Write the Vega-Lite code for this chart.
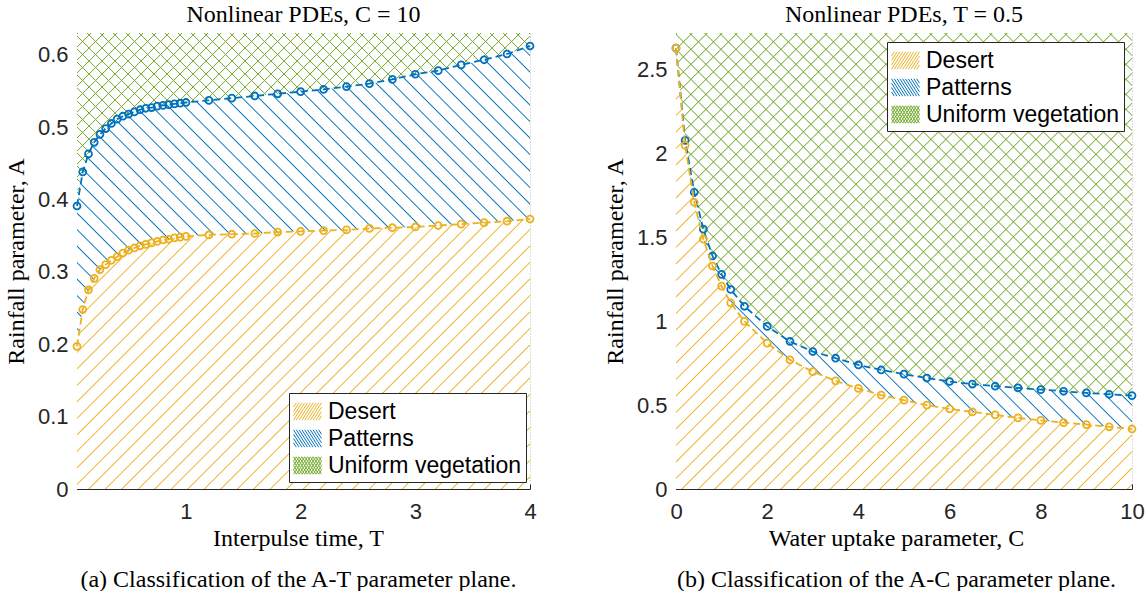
{
"$schema":"https://vega.github.io/schema/vega-lite/v6.json",
"background":"white",
"autosize":{"type":"pad"},
"padding":{"left":4,"top":3,"right":0,"bottom":0},
"spacing":146,
"bounds":"flush",
"datasets":{
"L":[{"T":0.05,"O":0.197,"B":0.391},{"T":0.1,"O":0.248,"B":0.438},{"T":0.15,"O":0.275,"B":0.463},{"T":0.2,"O":0.291,"B":0.479},{"T":0.25,"O":0.303,"B":0.49},{"T":0.3,"O":0.31,"B":0.498},{"T":0.35,"O":0.316,"B":0.505},{"T":0.4,"O":0.321,"B":0.511},{"T":0.45,"O":0.326,"B":0.515},{"T":0.5,"O":0.33,"B":0.518},{"T":0.55,"O":0.333,"B":0.521},{"T":0.6,"O":0.336,"B":0.524},{"T":0.65,"O":0.338,"B":0.526},{"T":0.7,"O":0.34,"B":0.527},{"T":0.75,"O":0.342,"B":0.529},{"T":0.8,"O":0.344,"B":0.53},{"T":0.85,"O":0.345,"B":0.531},{"T":0.9,"O":0.347,"B":0.532},{"T":0.95,"O":0.348,"B":0.533},{"T":1.0,"O":0.349,"B":0.534},{"T":1.2,"O":0.351,"B":0.537},{"T":1.4,"O":0.352,"B":0.54},{"T":1.6,"O":0.353,"B":0.543},{"T":1.8,"O":0.355,"B":0.546},{"T":2.0,"O":0.356,"B":0.549},{"T":2.2,"O":0.357,"B":0.552},{"T":2.4,"O":0.358,"B":0.556},{"T":2.6,"O":0.36,"B":0.56},{"T":2.8,"O":0.361,"B":0.566},{"T":3.0,"O":0.362,"B":0.573},{"T":3.2,"O":0.364,"B":0.578},{"T":3.4,"O":0.366,"B":0.586},{"T":3.6,"O":0.368,"B":0.593},{"T":3.8,"O":0.37,"B":0.601},{"T":4.0,"O":0.373,"B":0.612}],
"R":[{"C":0,"O":2.63,"B":2.63},{"C":0.2,"O":2.05,"B":2.08},{"C":0.4,"O":1.71,"B":1.77},{"C":0.6,"O":1.49,"B":1.55},{"C":0.8,"O":1.33,"B":1.39},{"C":1.0,"O":1.21,"B":1.28},{"C":1.2,"O":1.11,"B":1.19},{"C":1.5,"O":1.0,"B":1.09},{"C":2.0,"O":0.87,"B":0.97},{"C":2.5,"O":0.77,"B":0.88},{"C":3.0,"O":0.7,"B":0.82},{"C":3.5,"O":0.645,"B":0.78},{"C":4.0,"O":0.6,"B":0.74},{"C":4.5,"O":0.56,"B":0.71},{"C":5.0,"O":0.53,"B":0.685},{"C":5.5,"O":0.5,"B":0.662},{"C":6.0,"O":0.478,"B":0.641},{"C":6.5,"O":0.46,"B":0.626},{"C":7.0,"O":0.442,"B":0.613},{"C":7.5,"O":0.424,"B":0.603},{"C":8.0,"O":0.409,"B":0.593},{"C":8.5,"O":0.396,"B":0.583},{"C":9.0,"O":0.384,"B":0.573},{"C":9.5,"O":0.371,"B":0.565},{"C":10.0,"O":0.358,"B":0.557}],
"G":[{"region":"Desert"},{"region":"Patterns"},{"region":"Uniform vegetation"}]
},
"resolve":{"scale":{"stroke":"independent","shape":"independent"},"legend":{"stroke":"independent","shape":"independent"}},
"hconcat":[
{
"width":453,"height":456,
"title":{"text":"Nonlinear PDEs, C = 10"},
"data":{"name":"L"},
"encoding":{
"x":{"field":"T","type":"quantitative","scale":{"domain":[0.05,4],"nice":false,"zero":false},"axis":{"values":[1,2,3,4],"format":"~r","title":["Interpulse time, T","(a) Classification of the A-T parameter plane."],"titleX":221}},
"y":{"field":"O","type":"quantitative","scale":{"domain":[0,0.63],"nice":false,"zero":false},"axis":{"values":[0,0.1,0.2,0.3,0.4,0.5,0.6],"format":"~r","title":"Rainfall parameter, A"}}
},
"layer":[
{"mark":{"type":"area","fill":{"gradient":"linear","x1":0,"y1":0,"x2":2.6876,"y2":1.6019,"stops":[
{"offset":0.04,"color":"#fff"},{"offset":0.0408,"color":"#edb120"},{"offset":0.0416,"color":"#fff"},
{"offset":0.05,"color":"#fff"},{"offset":0.0508,"color":"#edb120"},{"offset":0.0516,"color":"#fff"},
{"offset":0.06,"color":"#fff"},{"offset":0.0608,"color":"#edb120"},{"offset":0.0616,"color":"#fff"},
{"offset":0.07,"color":"#fff"},{"offset":0.0708,"color":"#edb120"},{"offset":0.0716,"color":"#fff"},
{"offset":0.08,"color":"#fff"},{"offset":0.0808,"color":"#edb120"},{"offset":0.0816,"color":"#fff"},
{"offset":0.09,"color":"#fff"},{"offset":0.0908,"color":"#edb120"},{"offset":0.0916,"color":"#fff"},
{"offset":0.10,"color":"#fff"},{"offset":0.1008,"color":"#edb120"},{"offset":0.1016,"color":"#fff"},
{"offset":0.11,"color":"#fff"},{"offset":0.1108,"color":"#edb120"},{"offset":0.1116,"color":"#fff"},
{"offset":0.12,"color":"#fff"},{"offset":0.1208,"color":"#edb120"},{"offset":0.1216,"color":"#fff"},
{"offset":0.13,"color":"#fff"},{"offset":0.1308,"color":"#edb120"},{"offset":0.1316,"color":"#fff"},
{"offset":0.14,"color":"#fff"},{"offset":0.1408,"color":"#edb120"},{"offset":0.1416,"color":"#fff"},
{"offset":0.15,"color":"#fff"},{"offset":0.1508,"color":"#edb120"},{"offset":0.1516,"color":"#fff"},
{"offset":0.16,"color":"#fff"},{"offset":0.1608,"color":"#edb120"},{"offset":0.1616,"color":"#fff"},
{"offset":0.17,"color":"#fff"},{"offset":0.1708,"color":"#edb120"},{"offset":0.1716,"color":"#fff"},
{"offset":0.18,"color":"#fff"},{"offset":0.1808,"color":"#edb120"},{"offset":0.1816,"color":"#fff"},
{"offset":0.19,"color":"#fff"},{"offset":0.1908,"color":"#edb120"},{"offset":0.1916,"color":"#fff"},
{"offset":0.20,"color":"#fff"},{"offset":0.2008,"color":"#edb120"},{"offset":0.2016,"color":"#fff"},
{"offset":0.21,"color":"#fff"},{"offset":0.2108,"color":"#edb120"},{"offset":0.2116,"color":"#fff"},
{"offset":0.22,"color":"#fff"},{"offset":0.2208,"color":"#edb120"},{"offset":0.2216,"color":"#fff"},
{"offset":0.23,"color":"#fff"},{"offset":0.2308,"color":"#edb120"},{"offset":0.2316,"color":"#fff"},
{"offset":0.24,"color":"#fff"},{"offset":0.2408,"color":"#edb120"},{"offset":0.2416,"color":"#fff"},
{"offset":0.25,"color":"#fff"},{"offset":0.2508,"color":"#edb120"},{"offset":0.2516,"color":"#fff"},
{"offset":0.26,"color":"#fff"},{"offset":0.2608,"color":"#edb120"},{"offset":0.2616,"color":"#fff"},
{"offset":0.27,"color":"#fff"},{"offset":0.2708,"color":"#edb120"},{"offset":0.2716,"color":"#fff"},
{"offset":0.28,"color":"#fff"},{"offset":0.2808,"color":"#edb120"},{"offset":0.2816,"color":"#fff"},
{"offset":0.29,"color":"#fff"},{"offset":0.2908,"color":"#edb120"},{"offset":0.2916,"color":"#fff"},
{"offset":0.30,"color":"#fff"},{"offset":0.3008,"color":"#edb120"},{"offset":0.3016,"color":"#fff"},
{"offset":0.31,"color":"#fff"},{"offset":0.3108,"color":"#edb120"},{"offset":0.3116,"color":"#fff"},
{"offset":0.32,"color":"#fff"},{"offset":0.3208,"color":"#edb120"},{"offset":0.3216,"color":"#fff"},
{"offset":0.33,"color":"#fff"},{"offset":0.3308,"color":"#edb120"},{"offset":0.3316,"color":"#fff"},
{"offset":0.34,"color":"#fff"},{"offset":0.3408,"color":"#edb120"},{"offset":0.3416,"color":"#fff"},
{"offset":0.35,"color":"#fff"},{"offset":0.3508,"color":"#edb120"},{"offset":0.3516,"color":"#fff"},
{"offset":0.36,"color":"#fff"},{"offset":0.3608,"color":"#edb120"},{"offset":0.3616,"color":"#fff"},
{"offset":0.37,"color":"#fff"},{"offset":0.3708,"color":"#edb120"},{"offset":0.3716,"color":"#fff"},
{"offset":0.38,"color":"#fff"},{"offset":0.3808,"color":"#edb120"},{"offset":0.3816,"color":"#fff"},
{"offset":0.39,"color":"#fff"},{"offset":0.3908,"color":"#edb120"},{"offset":0.3916,"color":"#fff"},
{"offset":0.40,"color":"#fff"},{"offset":0.4008,"color":"#edb120"},{"offset":0.4016,"color":"#fff"},
{"offset":0.41,"color":"#fff"},{"offset":0.4108,"color":"#edb120"},{"offset":0.4116,"color":"#fff"},
{"offset":0.42,"color":"#fff"},{"offset":0.4208,"color":"#edb120"},{"offset":0.4216,"color":"#fff"},
{"offset":0.43,"color":"#fff"},{"offset":0.4308,"color":"#edb120"},{"offset":0.4316,"color":"#fff"}
]}},"encoding":{"y2":{"datum":0}}},
{"mark":{"type":"area","fill":{"gradient":"linear","x1":0,"y1":1,"x2":2.5299,"y2":-0.6776,"stops":[
{"offset":0,"color":"#fff"},{"offset":0.0008,"color":"#0072bd"},{"offset":0.0016,"color":"#fff"},
{"offset":0.01,"color":"#fff"},{"offset":0.0108,"color":"#0072bd"},{"offset":0.0116,"color":"#fff"},
{"offset":0.02,"color":"#fff"},{"offset":0.0208,"color":"#0072bd"},{"offset":0.0216,"color":"#fff"},
{"offset":0.03,"color":"#fff"},{"offset":0.0308,"color":"#0072bd"},{"offset":0.0316,"color":"#fff"},
{"offset":0.04,"color":"#fff"},{"offset":0.0408,"color":"#0072bd"},{"offset":0.0416,"color":"#fff"},
{"offset":0.05,"color":"#fff"},{"offset":0.0508,"color":"#0072bd"},{"offset":0.0516,"color":"#fff"},
{"offset":0.06,"color":"#fff"},{"offset":0.0608,"color":"#0072bd"},{"offset":0.0616,"color":"#fff"},
{"offset":0.07,"color":"#fff"},{"offset":0.0708,"color":"#0072bd"},{"offset":0.0716,"color":"#fff"},
{"offset":0.08,"color":"#fff"},{"offset":0.0808,"color":"#0072bd"},{"offset":0.0816,"color":"#fff"},
{"offset":0.09,"color":"#fff"},{"offset":0.0908,"color":"#0072bd"},{"offset":0.0916,"color":"#fff"},
{"offset":0.10,"color":"#fff"},{"offset":0.1008,"color":"#0072bd"},{"offset":0.1016,"color":"#fff"},
{"offset":0.11,"color":"#fff"},{"offset":0.1108,"color":"#0072bd"},{"offset":0.1116,"color":"#fff"},
{"offset":0.12,"color":"#fff"},{"offset":0.1208,"color":"#0072bd"},{"offset":0.1216,"color":"#fff"},
{"offset":0.13,"color":"#fff"},{"offset":0.1308,"color":"#0072bd"},{"offset":0.1316,"color":"#fff"},
{"offset":0.14,"color":"#fff"},{"offset":0.1408,"color":"#0072bd"},{"offset":0.1416,"color":"#fff"},
{"offset":0.15,"color":"#fff"},{"offset":0.1508,"color":"#0072bd"},{"offset":0.1516,"color":"#fff"},
{"offset":0.16,"color":"#fff"},{"offset":0.1608,"color":"#0072bd"},{"offset":0.1616,"color":"#fff"},
{"offset":0.17,"color":"#fff"},{"offset":0.1708,"color":"#0072bd"},{"offset":0.1716,"color":"#fff"},
{"offset":0.18,"color":"#fff"},{"offset":0.1808,"color":"#0072bd"},{"offset":0.1816,"color":"#fff"},
{"offset":0.19,"color":"#fff"},{"offset":0.1908,"color":"#0072bd"},{"offset":0.1916,"color":"#fff"},
{"offset":0.20,"color":"#fff"},{"offset":0.2008,"color":"#0072bd"},{"offset":0.2016,"color":"#fff"},
{"offset":0.21,"color":"#fff"},{"offset":0.2108,"color":"#0072bd"},{"offset":0.2116,"color":"#fff"},
{"offset":0.22,"color":"#fff"},{"offset":0.2208,"color":"#0072bd"},{"offset":0.2216,"color":"#fff"},
{"offset":0.23,"color":"#fff"},{"offset":0.2308,"color":"#0072bd"},{"offset":0.2316,"color":"#fff"},
{"offset":0.24,"color":"#fff"},{"offset":0.2408,"color":"#0072bd"},{"offset":0.2416,"color":"#fff"},
{"offset":0.25,"color":"#fff"},{"offset":0.2508,"color":"#0072bd"},{"offset":0.2516,"color":"#fff"},
{"offset":0.26,"color":"#fff"},{"offset":0.2608,"color":"#0072bd"},{"offset":0.2616,"color":"#fff"},
{"offset":0.27,"color":"#fff"},{"offset":0.2708,"color":"#0072bd"},{"offset":0.2716,"color":"#fff"},
{"offset":0.28,"color":"#fff"},{"offset":0.2808,"color":"#0072bd"},{"offset":0.2816,"color":"#fff"},
{"offset":0.29,"color":"#fff"},{"offset":0.2908,"color":"#0072bd"},{"offset":0.2916,"color":"#fff"},
{"offset":0.30,"color":"#fff"},{"offset":0.3008,"color":"#0072bd"},{"offset":0.3016,"color":"#fff"},
{"offset":0.31,"color":"#fff"},{"offset":0.3108,"color":"#0072bd"},{"offset":0.3116,"color":"#fff"},
{"offset":0.32,"color":"#fff"},{"offset":0.3208,"color":"#0072bd"},{"offset":0.3216,"color":"#fff"},
{"offset":0.33,"color":"#fff"},{"offset":0.3308,"color":"#0072bd"},{"offset":0.3316,"color":"#fff"},
{"offset":0.34,"color":"#fff"},{"offset":0.3408,"color":"#0072bd"},{"offset":0.3416,"color":"#fff"},
{"offset":0.35,"color":"#fff"},{"offset":0.3508,"color":"#0072bd"},{"offset":0.3516,"color":"#fff"},
{"offset":0.36,"color":"#fff"},{"offset":0.3608,"color":"#0072bd"},{"offset":0.3616,"color":"#fff"},
{"offset":0.37,"color":"#fff"},{"offset":0.3708,"color":"#0072bd"},{"offset":0.3716,"color":"#fff"},
{"offset":0.38,"color":"#fff"},{"offset":0.3808,"color":"#0072bd"},{"offset":0.3816,"color":"#fff"},
{"offset":0.39,"color":"#fff"},{"offset":0.3908,"color":"#0072bd"},{"offset":0.3916,"color":"#fff"},
{"offset":0.40,"color":"#fff"},{"offset":0.4008,"color":"#0072bd"},{"offset":0.4016,"color":"#fff"},
{"offset":0.41,"color":"#fff"},{"offset":0.4108,"color":"#0072bd"},{"offset":0.4116,"color":"#fff"},
{"offset":0.42,"color":"#fff"},{"offset":0.4208,"color":"#0072bd"},{"offset":0.4216,"color":"#fff"},
{"offset":0.43,"color":"#fff"},{"offset":0.4308,"color":"#0072bd"},{"offset":0.4316,"color":"#fff"},
{"offset":0.44,"color":"#fff"},{"offset":0.4408,"color":"#0072bd"},{"offset":0.4416,"color":"#fff"},
{"offset":0.45,"color":"#fff"},{"offset":0.4508,"color":"#0072bd"},{"offset":0.4516,"color":"#fff"}
]}},"encoding":{"y2":{"field":"B"}}},
{"mark":{"type":"area","fill":{"gradient":"linear","x1":0,"y1":0,"x2":2.5045,"y2":0.9565,"stops":[
{"offset":0,"color":"#fff"},{"offset":0.0008,"color":"#77ac30"},{"offset":0.0016,"color":"#fff"},
{"offset":0.01,"color":"#fff"},{"offset":0.0108,"color":"#77ac30"},{"offset":0.0116,"color":"#fff"},
{"offset":0.02,"color":"#fff"},{"offset":0.0208,"color":"#77ac30"},{"offset":0.0216,"color":"#fff"},
{"offset":0.03,"color":"#fff"},{"offset":0.0308,"color":"#77ac30"},{"offset":0.0316,"color":"#fff"},
{"offset":0.04,"color":"#fff"},{"offset":0.0408,"color":"#77ac30"},{"offset":0.0416,"color":"#fff"},
{"offset":0.05,"color":"#fff"},{"offset":0.0508,"color":"#77ac30"},{"offset":0.0516,"color":"#fff"},
{"offset":0.06,"color":"#fff"},{"offset":0.0608,"color":"#77ac30"},{"offset":0.0616,"color":"#fff"},
{"offset":0.07,"color":"#fff"},{"offset":0.0708,"color":"#77ac30"},{"offset":0.0716,"color":"#fff"},
{"offset":0.08,"color":"#fff"},{"offset":0.0808,"color":"#77ac30"},{"offset":0.0816,"color":"#fff"},
{"offset":0.09,"color":"#fff"},{"offset":0.0908,"color":"#77ac30"},{"offset":0.0916,"color":"#fff"},
{"offset":0.10,"color":"#fff"},{"offset":0.1008,"color":"#77ac30"},{"offset":0.1016,"color":"#fff"},
{"offset":0.11,"color":"#fff"},{"offset":0.1108,"color":"#77ac30"},{"offset":0.1116,"color":"#fff"},
{"offset":0.12,"color":"#fff"},{"offset":0.1208,"color":"#77ac30"},{"offset":0.1216,"color":"#fff"},
{"offset":0.13,"color":"#fff"},{"offset":0.1308,"color":"#77ac30"},{"offset":0.1316,"color":"#fff"},
{"offset":0.14,"color":"#fff"},{"offset":0.1408,"color":"#77ac30"},{"offset":0.1416,"color":"#fff"},
{"offset":0.15,"color":"#fff"},{"offset":0.1508,"color":"#77ac30"},{"offset":0.1516,"color":"#fff"},
{"offset":0.16,"color":"#fff"},{"offset":0.1608,"color":"#77ac30"},{"offset":0.1616,"color":"#fff"},
{"offset":0.17,"color":"#fff"},{"offset":0.1708,"color":"#77ac30"},{"offset":0.1716,"color":"#fff"},
{"offset":0.18,"color":"#fff"},{"offset":0.1808,"color":"#77ac30"},{"offset":0.1816,"color":"#fff"},
{"offset":0.19,"color":"#fff"},{"offset":0.1908,"color":"#77ac30"},{"offset":0.1916,"color":"#fff"},
{"offset":0.20,"color":"#fff"},{"offset":0.2008,"color":"#77ac30"},{"offset":0.2016,"color":"#fff"},
{"offset":0.21,"color":"#fff"},{"offset":0.2108,"color":"#77ac30"},{"offset":0.2116,"color":"#fff"},
{"offset":0.22,"color":"#fff"},{"offset":0.2208,"color":"#77ac30"},{"offset":0.2216,"color":"#fff"},
{"offset":0.23,"color":"#fff"},{"offset":0.2308,"color":"#77ac30"},{"offset":0.2316,"color":"#fff"},
{"offset":0.24,"color":"#fff"},{"offset":0.2408,"color":"#77ac30"},{"offset":0.2416,"color":"#fff"},
{"offset":0.25,"color":"#fff"},{"offset":0.2508,"color":"#77ac30"},{"offset":0.2516,"color":"#fff"},
{"offset":0.26,"color":"#fff"},{"offset":0.2608,"color":"#77ac30"},{"offset":0.2616,"color":"#fff"},
{"offset":0.27,"color":"#fff"},{"offset":0.2708,"color":"#77ac30"},{"offset":0.2716,"color":"#fff"},
{"offset":0.28,"color":"#fff"},{"offset":0.2808,"color":"#77ac30"},{"offset":0.2816,"color":"#fff"},
{"offset":0.29,"color":"#fff"},{"offset":0.2908,"color":"#77ac30"},{"offset":0.2916,"color":"#fff"},
{"offset":0.30,"color":"#fff"},{"offset":0.3008,"color":"#77ac30"},{"offset":0.3016,"color":"#fff"},
{"offset":0.31,"color":"#fff"},{"offset":0.3108,"color":"#77ac30"},{"offset":0.3116,"color":"#fff"},
{"offset":0.32,"color":"#fff"},{"offset":0.3208,"color":"#77ac30"},{"offset":0.3216,"color":"#fff"},
{"offset":0.33,"color":"#fff"},{"offset":0.3308,"color":"#77ac30"},{"offset":0.3316,"color":"#fff"},
{"offset":0.34,"color":"#fff"},{"offset":0.3408,"color":"#77ac30"},{"offset":0.3416,"color":"#fff"},
{"offset":0.35,"color":"#fff"},{"offset":0.3508,"color":"#77ac30"},{"offset":0.3516,"color":"#fff"}
]}},"encoding":{"y":{"field":"B","type":"quantitative"},"y2":{"datum":0.63}}},
{"mark":{"type":"area","fill":{"gradient":"linear","x1":0,"y1":1,"x2":2.5045,"y2":0.0435,"stops":[
{"offset":0,"color":"#77ac3000"},{"offset":0.0008,"color":"#77ac30"},{"offset":0.0016,"color":"#77ac3000"},
{"offset":0.01,"color":"#77ac3000"},{"offset":0.0108,"color":"#77ac30"},{"offset":0.0116,"color":"#77ac3000"},
{"offset":0.02,"color":"#77ac3000"},{"offset":0.0208,"color":"#77ac30"},{"offset":0.0216,"color":"#77ac3000"},
{"offset":0.03,"color":"#77ac3000"},{"offset":0.0308,"color":"#77ac30"},{"offset":0.0316,"color":"#77ac3000"},
{"offset":0.04,"color":"#77ac3000"},{"offset":0.0408,"color":"#77ac30"},{"offset":0.0416,"color":"#77ac3000"},
{"offset":0.05,"color":"#77ac3000"},{"offset":0.0508,"color":"#77ac30"},{"offset":0.0516,"color":"#77ac3000"},
{"offset":0.06,"color":"#77ac3000"},{"offset":0.0608,"color":"#77ac30"},{"offset":0.0616,"color":"#77ac3000"},
{"offset":0.07,"color":"#77ac3000"},{"offset":0.0708,"color":"#77ac30"},{"offset":0.0716,"color":"#77ac3000"},
{"offset":0.08,"color":"#77ac3000"},{"offset":0.0808,"color":"#77ac30"},{"offset":0.0816,"color":"#77ac3000"},
{"offset":0.09,"color":"#77ac3000"},{"offset":0.0908,"color":"#77ac30"},{"offset":0.0916,"color":"#77ac3000"},
{"offset":0.10,"color":"#77ac3000"},{"offset":0.1008,"color":"#77ac30"},{"offset":0.1016,"color":"#77ac3000"},
{"offset":0.11,"color":"#77ac3000"},{"offset":0.1108,"color":"#77ac30"},{"offset":0.1116,"color":"#77ac3000"},
{"offset":0.12,"color":"#77ac3000"},{"offset":0.1208,"color":"#77ac30"},{"offset":0.1216,"color":"#77ac3000"},
{"offset":0.13,"color":"#77ac3000"},{"offset":0.1308,"color":"#77ac30"},{"offset":0.1316,"color":"#77ac3000"},
{"offset":0.14,"color":"#77ac3000"},{"offset":0.1408,"color":"#77ac30"},{"offset":0.1416,"color":"#77ac3000"},
{"offset":0.15,"color":"#77ac3000"},{"offset":0.1508,"color":"#77ac30"},{"offset":0.1516,"color":"#77ac3000"},
{"offset":0.16,"color":"#77ac3000"},{"offset":0.1608,"color":"#77ac30"},{"offset":0.1616,"color":"#77ac3000"},
{"offset":0.17,"color":"#77ac3000"},{"offset":0.1708,"color":"#77ac30"},{"offset":0.1716,"color":"#77ac3000"},
{"offset":0.18,"color":"#77ac3000"},{"offset":0.1808,"color":"#77ac30"},{"offset":0.1816,"color":"#77ac3000"},
{"offset":0.19,"color":"#77ac3000"},{"offset":0.1908,"color":"#77ac30"},{"offset":0.1916,"color":"#77ac3000"},
{"offset":0.20,"color":"#77ac3000"},{"offset":0.2008,"color":"#77ac30"},{"offset":0.2016,"color":"#77ac3000"},
{"offset":0.21,"color":"#77ac3000"},{"offset":0.2108,"color":"#77ac30"},{"offset":0.2116,"color":"#77ac3000"},
{"offset":0.22,"color":"#77ac3000"},{"offset":0.2208,"color":"#77ac30"},{"offset":0.2216,"color":"#77ac3000"},
{"offset":0.23,"color":"#77ac3000"},{"offset":0.2308,"color":"#77ac30"},{"offset":0.2316,"color":"#77ac3000"},
{"offset":0.24,"color":"#77ac3000"},{"offset":0.2408,"color":"#77ac30"},{"offset":0.2416,"color":"#77ac3000"},
{"offset":0.25,"color":"#77ac3000"},{"offset":0.2508,"color":"#77ac30"},{"offset":0.2516,"color":"#77ac3000"},
{"offset":0.26,"color":"#77ac3000"},{"offset":0.2608,"color":"#77ac30"},{"offset":0.2616,"color":"#77ac3000"},
{"offset":0.27,"color":"#77ac3000"},{"offset":0.2708,"color":"#77ac30"},{"offset":0.2716,"color":"#77ac3000"},
{"offset":0.28,"color":"#77ac3000"},{"offset":0.2808,"color":"#77ac30"},{"offset":0.2816,"color":"#77ac3000"},
{"offset":0.29,"color":"#77ac3000"},{"offset":0.2908,"color":"#77ac30"},{"offset":0.2916,"color":"#77ac3000"},
{"offset":0.30,"color":"#77ac3000"},{"offset":0.3008,"color":"#77ac30"},{"offset":0.3016,"color":"#77ac3000"},
{"offset":0.31,"color":"#77ac3000"},{"offset":0.3108,"color":"#77ac30"},{"offset":0.3116,"color":"#77ac3000"},
{"offset":0.32,"color":"#77ac3000"},{"offset":0.3208,"color":"#77ac30"},{"offset":0.3216,"color":"#77ac3000"},
{"offset":0.33,"color":"#77ac3000"},{"offset":0.3308,"color":"#77ac30"},{"offset":0.3316,"color":"#77ac3000"},
{"offset":0.34,"color":"#77ac3000"},{"offset":0.3408,"color":"#77ac30"},{"offset":0.3416,"color":"#77ac3000"},
{"offset":0.35,"color":"#77ac3000"},{"offset":0.3508,"color":"#77ac30"},{"offset":0.3516,"color":"#77ac3000"},
{"offset":0.36,"color":"#77ac3000"},{"offset":0.3608,"color":"#77ac30"},{"offset":0.3616,"color":"#77ac3000"},
{"offset":0.37,"color":"#77ac3000"},{"offset":0.3708,"color":"#77ac30"},{"offset":0.3716,"color":"#77ac3000"},
{"offset":0.38,"color":"#77ac3000"},{"offset":0.3808,"color":"#77ac30"},{"offset":0.3816,"color":"#77ac3000"},
{"offset":0.39,"color":"#77ac3000"},{"offset":0.3908,"color":"#77ac30"},{"offset":0.3916,"color":"#77ac3000"},
{"offset":0.40,"color":"#77ac3000"},{"offset":0.4008,"color":"#77ac30"},{"offset":0.4016,"color":"#77ac3000"},
{"offset":0.41,"color":"#77ac3000"},{"offset":0.4108,"color":"#77ac30"},{"offset":0.4116,"color":"#77ac3000"},
{"offset":0.42,"color":"#77ac3000"},{"offset":0.4208,"color":"#77ac30"},{"offset":0.4216,"color":"#77ac3000"},
{"offset":0.43,"color":"#77ac3000"},{"offset":0.4308,"color":"#77ac30"},{"offset":0.4316,"color":"#77ac3000"},
{"offset":0.44,"color":"#77ac3000"},{"offset":0.4408,"color":"#77ac30"},{"offset":0.4416,"color":"#77ac3000"},
{"offset":0.45,"color":"#77ac3000"},{"offset":0.4508,"color":"#77ac30"},{"offset":0.4516,"color":"#77ac3000"},
{"offset":0.46,"color":"#77ac3000"},{"offset":0.4608,"color":"#77ac30"},{"offset":0.4616,"color":"#77ac3000"},
{"offset":0.47,"color":"#77ac3000"},{"offset":0.4708,"color":"#77ac30"},{"offset":0.4716,"color":"#77ac3000"},
{"offset":0.48,"color":"#77ac3000"},{"offset":0.4808,"color":"#77ac30"},{"offset":0.4816,"color":"#77ac3000"}
]}},"encoding":{"y":{"field":"B","type":"quantitative"},"y2":{"datum":0.63}}},
{"mark":{"type":"line","stroke":"#0072bd","strokeWidth":1.8,"strokeDash":[7,4]},"encoding":{"y":{"field":"B","type":"quantitative"}}},
{"mark":{"type":"point","shape":"circle","filled":false,"stroke":"#0072bd","strokeWidth":1.8,"size":48,"opacity":1},"encoding":{"y":{"field":"B","type":"quantitative"}}},
{"mark":{"type":"line","stroke":"#edb120","strokeWidth":1.8,"strokeDash":[7,4]},"encoding":{}},
{"mark":{"type":"point","shape":"circle","filled":false,"stroke":"#edb120","strokeWidth":1.8,"size":48,"opacity":1},"encoding":{}},
{"data":{"name":"G"},"mark":{"type":"point","filled":false,"clip":true,"opacity":1,"strokeWidth":1},
"encoding":{"x":{"datum":-10},"y":{"datum":-10},
"stroke":{"field":"region","type":"nominal","scale":{"domain":["Desert","Patterns","Uniform vegetation"],"range":["#edb120","#0072bd","#77ac30"]},"legend":{"orient":"none","legendX":212,"legendY":360,"title":null}},
"shape":{"field":"region","type":"nominal","scale":{"domain":["Desert","Patterns","Uniform vegetation"],"range":["M-1,-0.31L-0.8,-0.62M-1,0L-0.6,-0.62M-1,0.31L-0.4,-0.62M-1,0.62L-0.2,-0.62M-0.8,0.62L0,-0.62M-0.6,0.62L0.2,-0.62M-0.4,0.62L0.4,-0.62M-0.2,0.62L0.6,-0.62M0,0.62L0.8,-0.62M0.2,0.62L1,-0.62M0.4,0.62L1,-0.31M0.6,0.62L1,0M0.8,0.62L1,0.31","M-1,0.31L-0.8,0.62M-1,0L-0.6,0.62M-1,-0.31L-0.4,0.62M-1,-0.62L-0.2,0.62M-0.8,-0.62L0,0.62M-0.6,-0.62L0.2,0.62M-0.4,-0.62L0.4,0.62M-0.2,-0.62L0.6,0.62M0,-0.62L0.8,0.62M0.2,-0.62L1,0.62M0.4,-0.62L1,0.31M0.6,-0.62L1,0M0.8,-0.62L1,-0.31","M-1,-0.31L-0.8,-0.62M-1,0L-0.6,-0.62M-1,0.31L-0.4,-0.62M-1,0.62L-0.2,-0.62M-0.8,0.62L0,-0.62M-0.6,0.62L0.2,-0.62M-0.4,0.62L0.4,-0.62M-0.2,0.62L0.6,-0.62M0,0.62L0.8,-0.62M0.2,0.62L1,-0.62M0.4,0.62L1,-0.31M0.6,0.62L1,0M0.8,0.62L1,0.31M-1,0.31L-0.8,0.62M-1,0L-0.6,0.62M-1,-0.31L-0.4,0.62M-1,-0.62L-0.2,0.62M-0.8,-0.62L0,0.62M-0.6,-0.62L0.2,0.62M-0.4,-0.62L0.4,0.62M-0.2,-0.62L0.6,0.62M0,-0.62L0.8,0.62M0.2,-0.62L1,0.62M0.4,-0.62L1,0.31M0.6,-0.62L1,0M0.8,-0.62L1,-0.31"]},"legend":{"orient":"none","legendX":212,"legendY":360,"title":null}}}}
]
},
{
"width":456,"height":456,
"title":{"text":"Nonlinear PDEs, T = 0.5"},
"data":{"name":"R"},
"encoding":{
"x":{"field":"C","type":"quantitative","scale":{"domain":[0,10],"nice":false,"zero":false},"axis":{"values":[0,2,4,6,8,10],"format":"~r","title":["Water uptake parameter, C","(b) Classification of the A-C parameter plane."],"titleX":220}},
"y":{"field":"O","type":"quantitative","scale":{"domain":[0,2.72],"nice":false,"zero":false},"axis":{"values":[0,0.5,1,1.5,2,2.5],"format":"~r","title":"Rainfall parameter, A"}}
},
"layer":[
{"mark":{"type":"area","fill":{"gradient":"linear","x1":0,"y1":0,"x2":1.8701,"y2":1.8082,"stops":[
{"offset":0.03,"color":"#fff"},{"offset":0.0308,"color":"#edb120"},{"offset":0.0316,"color":"#fff"},
{"offset":0.04,"color":"#fff"},{"offset":0.0408,"color":"#edb120"},{"offset":0.0416,"color":"#fff"},
{"offset":0.05,"color":"#fff"},{"offset":0.0508,"color":"#edb120"},{"offset":0.0516,"color":"#fff"},
{"offset":0.06,"color":"#fff"},{"offset":0.0608,"color":"#edb120"},{"offset":0.0616,"color":"#fff"},
{"offset":0.07,"color":"#fff"},{"offset":0.0708,"color":"#edb120"},{"offset":0.0716,"color":"#fff"},
{"offset":0.08,"color":"#fff"},{"offset":0.0808,"color":"#edb120"},{"offset":0.0816,"color":"#fff"},
{"offset":0.09,"color":"#fff"},{"offset":0.0908,"color":"#edb120"},{"offset":0.0916,"color":"#fff"},
{"offset":0.10,"color":"#fff"},{"offset":0.1008,"color":"#edb120"},{"offset":0.1016,"color":"#fff"},
{"offset":0.11,"color":"#fff"},{"offset":0.1108,"color":"#edb120"},{"offset":0.1116,"color":"#fff"},
{"offset":0.12,"color":"#fff"},{"offset":0.1208,"color":"#edb120"},{"offset":0.1216,"color":"#fff"},
{"offset":0.13,"color":"#fff"},{"offset":0.1308,"color":"#edb120"},{"offset":0.1316,"color":"#fff"},
{"offset":0.14,"color":"#fff"},{"offset":0.1408,"color":"#edb120"},{"offset":0.1416,"color":"#fff"},
{"offset":0.15,"color":"#fff"},{"offset":0.1508,"color":"#edb120"},{"offset":0.1516,"color":"#fff"},
{"offset":0.16,"color":"#fff"},{"offset":0.1608,"color":"#edb120"},{"offset":0.1616,"color":"#fff"},
{"offset":0.17,"color":"#fff"},{"offset":0.1708,"color":"#edb120"},{"offset":0.1716,"color":"#fff"},
{"offset":0.18,"color":"#fff"},{"offset":0.1808,"color":"#edb120"},{"offset":0.1816,"color":"#fff"},
{"offset":0.19,"color":"#fff"},{"offset":0.1908,"color":"#edb120"},{"offset":0.1916,"color":"#fff"},
{"offset":0.20,"color":"#fff"},{"offset":0.2008,"color":"#edb120"},{"offset":0.2016,"color":"#fff"},
{"offset":0.21,"color":"#fff"},{"offset":0.2108,"color":"#edb120"},{"offset":0.2116,"color":"#fff"},
{"offset":0.22,"color":"#fff"},{"offset":0.2208,"color":"#edb120"},{"offset":0.2216,"color":"#fff"},
{"offset":0.23,"color":"#fff"},{"offset":0.2308,"color":"#edb120"},{"offset":0.2316,"color":"#fff"},
{"offset":0.24,"color":"#fff"},{"offset":0.2408,"color":"#edb120"},{"offset":0.2416,"color":"#fff"},
{"offset":0.25,"color":"#fff"},{"offset":0.2508,"color":"#edb120"},{"offset":0.2516,"color":"#fff"},
{"offset":0.26,"color":"#fff"},{"offset":0.2608,"color":"#edb120"},{"offset":0.2616,"color":"#fff"},
{"offset":0.27,"color":"#fff"},{"offset":0.2708,"color":"#edb120"},{"offset":0.2716,"color":"#fff"},
{"offset":0.28,"color":"#fff"},{"offset":0.2808,"color":"#edb120"},{"offset":0.2816,"color":"#fff"},
{"offset":0.29,"color":"#fff"},{"offset":0.2908,"color":"#edb120"},{"offset":0.2916,"color":"#fff"},
{"offset":0.30,"color":"#fff"},{"offset":0.3008,"color":"#edb120"},{"offset":0.3016,"color":"#fff"},
{"offset":0.31,"color":"#fff"},{"offset":0.3108,"color":"#edb120"},{"offset":0.3116,"color":"#fff"},
{"offset":0.32,"color":"#fff"},{"offset":0.3208,"color":"#edb120"},{"offset":0.3216,"color":"#fff"},
{"offset":0.33,"color":"#fff"},{"offset":0.3308,"color":"#edb120"},{"offset":0.3316,"color":"#fff"},
{"offset":0.34,"color":"#fff"},{"offset":0.3408,"color":"#edb120"},{"offset":0.3416,"color":"#fff"},
{"offset":0.35,"color":"#fff"},{"offset":0.3508,"color":"#edb120"},{"offset":0.3516,"color":"#fff"},
{"offset":0.36,"color":"#fff"},{"offset":0.3608,"color":"#edb120"},{"offset":0.3616,"color":"#fff"},
{"offset":0.37,"color":"#fff"},{"offset":0.3708,"color":"#edb120"},{"offset":0.3716,"color":"#fff"},
{"offset":0.38,"color":"#fff"},{"offset":0.3808,"color":"#edb120"},{"offset":0.3816,"color":"#fff"},
{"offset":0.39,"color":"#fff"},{"offset":0.3908,"color":"#edb120"},{"offset":0.3916,"color":"#fff"},
{"offset":0.40,"color":"#fff"},{"offset":0.4008,"color":"#edb120"},{"offset":0.4016,"color":"#fff"},
{"offset":0.41,"color":"#fff"},{"offset":0.4108,"color":"#edb120"},{"offset":0.4116,"color":"#fff"},
{"offset":0.42,"color":"#fff"},{"offset":0.4208,"color":"#edb120"},{"offset":0.4216,"color":"#fff"},
{"offset":0.43,"color":"#fff"},{"offset":0.4308,"color":"#edb120"},{"offset":0.4316,"color":"#fff"},
{"offset":0.44,"color":"#fff"},{"offset":0.4408,"color":"#edb120"},{"offset":0.4416,"color":"#fff"},
{"offset":0.45,"color":"#fff"},{"offset":0.4508,"color":"#edb120"},{"offset":0.4516,"color":"#fff"},
{"offset":0.46,"color":"#fff"},{"offset":0.4608,"color":"#edb120"},{"offset":0.4616,"color":"#fff"},
{"offset":0.47,"color":"#fff"},{"offset":0.4708,"color":"#edb120"},{"offset":0.4716,"color":"#fff"},
{"offset":0.48,"color":"#fff"},{"offset":0.4808,"color":"#edb120"},{"offset":0.4816,"color":"#fff"},
{"offset":0.49,"color":"#fff"},{"offset":0.4908,"color":"#edb120"},{"offset":0.4916,"color":"#fff"},
{"offset":0.50,"color":"#fff"},{"offset":0.5008,"color":"#edb120"},{"offset":0.5016,"color":"#fff"},
{"offset":0.51,"color":"#fff"},{"offset":0.5108,"color":"#edb120"},{"offset":0.5116,"color":"#fff"},
{"offset":0.52,"color":"#fff"},{"offset":0.5208,"color":"#edb120"},{"offset":0.5216,"color":"#fff"},
{"offset":0.53,"color":"#fff"},{"offset":0.5308,"color":"#edb120"},{"offset":0.5316,"color":"#fff"},
{"offset":0.54,"color":"#fff"},{"offset":0.5408,"color":"#edb120"},{"offset":0.5416,"color":"#fff"}
]}},"encoding":{"y2":{"datum":0}}},
{"mark":{"type":"area","fill":{"gradient":"linear","x1":0,"y1":1,"x2":2.1304,"y2":-0.7805,"stops":[
{"offset":0.10,"color":"#fff"},{"offset":0.1008,"color":"#0072bd"},{"offset":0.1016,"color":"#fff"},
{"offset":0.11,"color":"#fff"},{"offset":0.1108,"color":"#0072bd"},{"offset":0.1116,"color":"#fff"},
{"offset":0.12,"color":"#fff"},{"offset":0.1208,"color":"#0072bd"},{"offset":0.1216,"color":"#fff"},
{"offset":0.13,"color":"#fff"},{"offset":0.1308,"color":"#0072bd"},{"offset":0.1316,"color":"#fff"},
{"offset":0.14,"color":"#fff"},{"offset":0.1408,"color":"#0072bd"},{"offset":0.1416,"color":"#fff"},
{"offset":0.15,"color":"#fff"},{"offset":0.1508,"color":"#0072bd"},{"offset":0.1516,"color":"#fff"},
{"offset":0.16,"color":"#fff"},{"offset":0.1608,"color":"#0072bd"},{"offset":0.1616,"color":"#fff"},
{"offset":0.17,"color":"#fff"},{"offset":0.1708,"color":"#0072bd"},{"offset":0.1716,"color":"#fff"},
{"offset":0.18,"color":"#fff"},{"offset":0.1808,"color":"#0072bd"},{"offset":0.1816,"color":"#fff"},
{"offset":0.19,"color":"#fff"},{"offset":0.1908,"color":"#0072bd"},{"offset":0.1916,"color":"#fff"},
{"offset":0.20,"color":"#fff"},{"offset":0.2008,"color":"#0072bd"},{"offset":0.2016,"color":"#fff"},
{"offset":0.21,"color":"#fff"},{"offset":0.2108,"color":"#0072bd"},{"offset":0.2116,"color":"#fff"},
{"offset":0.22,"color":"#fff"},{"offset":0.2208,"color":"#0072bd"},{"offset":0.2216,"color":"#fff"},
{"offset":0.23,"color":"#fff"},{"offset":0.2308,"color":"#0072bd"},{"offset":0.2316,"color":"#fff"},
{"offset":0.24,"color":"#fff"},{"offset":0.2408,"color":"#0072bd"},{"offset":0.2416,"color":"#fff"},
{"offset":0.25,"color":"#fff"},{"offset":0.2508,"color":"#0072bd"},{"offset":0.2516,"color":"#fff"},
{"offset":0.26,"color":"#fff"},{"offset":0.2608,"color":"#0072bd"},{"offset":0.2616,"color":"#fff"},
{"offset":0.27,"color":"#fff"},{"offset":0.2708,"color":"#0072bd"},{"offset":0.2716,"color":"#fff"},
{"offset":0.28,"color":"#fff"},{"offset":0.2808,"color":"#0072bd"},{"offset":0.2816,"color":"#fff"},
{"offset":0.29,"color":"#fff"},{"offset":0.2908,"color":"#0072bd"},{"offset":0.2916,"color":"#fff"}
]}},"encoding":{"y2":{"field":"B"}}},
{"mark":{"type":"area","fill":{"gradient":"linear","x1":0,"y1":0,"x2":2.0152,"y2":1.6025,"stops":[
{"offset":0,"color":"#fff"},{"offset":0.0008,"color":"#77ac30"},{"offset":0.0016,"color":"#fff"},
{"offset":0.01,"color":"#fff"},{"offset":0.0108,"color":"#77ac30"},{"offset":0.0116,"color":"#fff"},
{"offset":0.02,"color":"#fff"},{"offset":0.0208,"color":"#77ac30"},{"offset":0.0216,"color":"#fff"},
{"offset":0.03,"color":"#fff"},{"offset":0.0308,"color":"#77ac30"},{"offset":0.0316,"color":"#fff"},
{"offset":0.04,"color":"#fff"},{"offset":0.0408,"color":"#77ac30"},{"offset":0.0416,"color":"#fff"},
{"offset":0.05,"color":"#fff"},{"offset":0.0508,"color":"#77ac30"},{"offset":0.0516,"color":"#fff"},
{"offset":0.06,"color":"#fff"},{"offset":0.0608,"color":"#77ac30"},{"offset":0.0616,"color":"#fff"},
{"offset":0.07,"color":"#fff"},{"offset":0.0708,"color":"#77ac30"},{"offset":0.0716,"color":"#fff"},
{"offset":0.08,"color":"#fff"},{"offset":0.0808,"color":"#77ac30"},{"offset":0.0816,"color":"#fff"},
{"offset":0.09,"color":"#fff"},{"offset":0.0908,"color":"#77ac30"},{"offset":0.0916,"color":"#fff"},
{"offset":0.10,"color":"#fff"},{"offset":0.1008,"color":"#77ac30"},{"offset":0.1016,"color":"#fff"},
{"offset":0.11,"color":"#fff"},{"offset":0.1108,"color":"#77ac30"},{"offset":0.1116,"color":"#fff"},
{"offset":0.12,"color":"#fff"},{"offset":0.1208,"color":"#77ac30"},{"offset":0.1216,"color":"#fff"},
{"offset":0.13,"color":"#fff"},{"offset":0.1308,"color":"#77ac30"},{"offset":0.1316,"color":"#fff"},
{"offset":0.14,"color":"#fff"},{"offset":0.1408,"color":"#77ac30"},{"offset":0.1416,"color":"#fff"},
{"offset":0.15,"color":"#fff"},{"offset":0.1508,"color":"#77ac30"},{"offset":0.1516,"color":"#fff"},
{"offset":0.16,"color":"#fff"},{"offset":0.1608,"color":"#77ac30"},{"offset":0.1616,"color":"#fff"},
{"offset":0.17,"color":"#fff"},{"offset":0.1708,"color":"#77ac30"},{"offset":0.1716,"color":"#fff"},
{"offset":0.18,"color":"#fff"},{"offset":0.1808,"color":"#77ac30"},{"offset":0.1816,"color":"#fff"},
{"offset":0.19,"color":"#fff"},{"offset":0.1908,"color":"#77ac30"},{"offset":0.1916,"color":"#fff"},
{"offset":0.20,"color":"#fff"},{"offset":0.2008,"color":"#77ac30"},{"offset":0.2016,"color":"#fff"},
{"offset":0.21,"color":"#fff"},{"offset":0.2108,"color":"#77ac30"},{"offset":0.2116,"color":"#fff"},
{"offset":0.22,"color":"#fff"},{"offset":0.2208,"color":"#77ac30"},{"offset":0.2216,"color":"#fff"},
{"offset":0.23,"color":"#fff"},{"offset":0.2308,"color":"#77ac30"},{"offset":0.2316,"color":"#fff"},
{"offset":0.24,"color":"#fff"},{"offset":0.2408,"color":"#77ac30"},{"offset":0.2416,"color":"#fff"},
{"offset":0.25,"color":"#fff"},{"offset":0.2508,"color":"#77ac30"},{"offset":0.2516,"color":"#fff"},
{"offset":0.26,"color":"#fff"},{"offset":0.2608,"color":"#77ac30"},{"offset":0.2616,"color":"#fff"},
{"offset":0.27,"color":"#fff"},{"offset":0.2708,"color":"#77ac30"},{"offset":0.2716,"color":"#fff"},
{"offset":0.28,"color":"#fff"},{"offset":0.2808,"color":"#77ac30"},{"offset":0.2816,"color":"#fff"},
{"offset":0.29,"color":"#fff"},{"offset":0.2908,"color":"#77ac30"},{"offset":0.2916,"color":"#fff"},
{"offset":0.30,"color":"#fff"},{"offset":0.3008,"color":"#77ac30"},{"offset":0.3016,"color":"#fff"},
{"offset":0.31,"color":"#fff"},{"offset":0.3108,"color":"#77ac30"},{"offset":0.3116,"color":"#fff"},
{"offset":0.32,"color":"#fff"},{"offset":0.3208,"color":"#77ac30"},{"offset":0.3216,"color":"#fff"},
{"offset":0.33,"color":"#fff"},{"offset":0.3308,"color":"#77ac30"},{"offset":0.3316,"color":"#fff"},
{"offset":0.34,"color":"#fff"},{"offset":0.3408,"color":"#77ac30"},{"offset":0.3416,"color":"#fff"},
{"offset":0.35,"color":"#fff"},{"offset":0.3508,"color":"#77ac30"},{"offset":0.3516,"color":"#fff"},
{"offset":0.36,"color":"#fff"},{"offset":0.3608,"color":"#77ac30"},{"offset":0.3616,"color":"#fff"},
{"offset":0.37,"color":"#fff"},{"offset":0.3708,"color":"#77ac30"},{"offset":0.3716,"color":"#fff"},
{"offset":0.38,"color":"#fff"},{"offset":0.3808,"color":"#77ac30"},{"offset":0.3816,"color":"#fff"},
{"offset":0.39,"color":"#fff"},{"offset":0.3908,"color":"#77ac30"},{"offset":0.3916,"color":"#fff"},
{"offset":0.40,"color":"#fff"},{"offset":0.4008,"color":"#77ac30"},{"offset":0.4016,"color":"#fff"},
{"offset":0.41,"color":"#fff"},{"offset":0.4108,"color":"#77ac30"},{"offset":0.4116,"color":"#fff"},
{"offset":0.42,"color":"#fff"},{"offset":0.4208,"color":"#77ac30"},{"offset":0.4216,"color":"#fff"},
{"offset":0.43,"color":"#fff"},{"offset":0.4308,"color":"#77ac30"},{"offset":0.4316,"color":"#fff"},
{"offset":0.44,"color":"#fff"},{"offset":0.4408,"color":"#77ac30"},{"offset":0.4416,"color":"#fff"},
{"offset":0.45,"color":"#fff"},{"offset":0.4508,"color":"#77ac30"},{"offset":0.4516,"color":"#fff"},
{"offset":0.46,"color":"#fff"},{"offset":0.4608,"color":"#77ac30"},{"offset":0.4616,"color":"#fff"},
{"offset":0.47,"color":"#fff"},{"offset":0.4708,"color":"#77ac30"},{"offset":0.4716,"color":"#fff"},
{"offset":0.48,"color":"#fff"},{"offset":0.4808,"color":"#77ac30"},{"offset":0.4816,"color":"#fff"},
{"offset":0.49,"color":"#fff"},{"offset":0.4908,"color":"#77ac30"},{"offset":0.4916,"color":"#fff"},
{"offset":0.50,"color":"#fff"},{"offset":0.5008,"color":"#77ac30"},{"offset":0.5016,"color":"#fff"},
{"offset":0.51,"color":"#fff"},{"offset":0.5108,"color":"#77ac30"},{"offset":0.5116,"color":"#fff"},
{"offset":0.52,"color":"#fff"},{"offset":0.5208,"color":"#77ac30"},{"offset":0.5216,"color":"#fff"},
{"offset":0.53,"color":"#fff"},{"offset":0.5308,"color":"#77ac30"},{"offset":0.5316,"color":"#fff"},
{"offset":0.54,"color":"#fff"},{"offset":0.5408,"color":"#77ac30"},{"offset":0.5416,"color":"#fff"}
]}},"encoding":{"y":{"field":"B","type":"quantitative"},"y2":{"datum":2.72}}},
{"mark":{"type":"area","fill":{"gradient":"linear","x1":0,"y1":1,"x2":2.0152,"y2":-0.6025,"stops":[
{"offset":0.10,"color":"#77ac3000"},{"offset":0.1008,"color":"#77ac30"},{"offset":0.1016,"color":"#77ac3000"},
{"offset":0.11,"color":"#77ac3000"},{"offset":0.1108,"color":"#77ac30"},{"offset":0.1116,"color":"#77ac3000"},
{"offset":0.12,"color":"#77ac3000"},{"offset":0.1208,"color":"#77ac30"},{"offset":0.1216,"color":"#77ac3000"},
{"offset":0.13,"color":"#77ac3000"},{"offset":0.1308,"color":"#77ac30"},{"offset":0.1316,"color":"#77ac3000"},
{"offset":0.14,"color":"#77ac3000"},{"offset":0.1408,"color":"#77ac30"},{"offset":0.1416,"color":"#77ac3000"},
{"offset":0.15,"color":"#77ac3000"},{"offset":0.1508,"color":"#77ac30"},{"offset":0.1516,"color":"#77ac3000"},
{"offset":0.16,"color":"#77ac3000"},{"offset":0.1608,"color":"#77ac30"},{"offset":0.1616,"color":"#77ac3000"},
{"offset":0.17,"color":"#77ac3000"},{"offset":0.1708,"color":"#77ac30"},{"offset":0.1716,"color":"#77ac3000"},
{"offset":0.18,"color":"#77ac3000"},{"offset":0.1808,"color":"#77ac30"},{"offset":0.1816,"color":"#77ac3000"},
{"offset":0.19,"color":"#77ac3000"},{"offset":0.1908,"color":"#77ac30"},{"offset":0.1916,"color":"#77ac3000"},
{"offset":0.20,"color":"#77ac3000"},{"offset":0.2008,"color":"#77ac30"},{"offset":0.2016,"color":"#77ac3000"},
{"offset":0.21,"color":"#77ac3000"},{"offset":0.2108,"color":"#77ac30"},{"offset":0.2116,"color":"#77ac3000"},
{"offset":0.22,"color":"#77ac3000"},{"offset":0.2208,"color":"#77ac30"},{"offset":0.2216,"color":"#77ac3000"},
{"offset":0.23,"color":"#77ac3000"},{"offset":0.2308,"color":"#77ac30"},{"offset":0.2316,"color":"#77ac3000"},
{"offset":0.24,"color":"#77ac3000"},{"offset":0.2408,"color":"#77ac30"},{"offset":0.2416,"color":"#77ac3000"},
{"offset":0.25,"color":"#77ac3000"},{"offset":0.2508,"color":"#77ac30"},{"offset":0.2516,"color":"#77ac3000"},
{"offset":0.26,"color":"#77ac3000"},{"offset":0.2608,"color":"#77ac30"},{"offset":0.2616,"color":"#77ac3000"},
{"offset":0.27,"color":"#77ac3000"},{"offset":0.2708,"color":"#77ac30"},{"offset":0.2716,"color":"#77ac3000"},
{"offset":0.28,"color":"#77ac3000"},{"offset":0.2808,"color":"#77ac30"},{"offset":0.2816,"color":"#77ac3000"},
{"offset":0.29,"color":"#77ac3000"},{"offset":0.2908,"color":"#77ac30"},{"offset":0.2916,"color":"#77ac3000"},
{"offset":0.30,"color":"#77ac3000"},{"offset":0.3008,"color":"#77ac30"},{"offset":0.3016,"color":"#77ac3000"},
{"offset":0.31,"color":"#77ac3000"},{"offset":0.3108,"color":"#77ac30"},{"offset":0.3116,"color":"#77ac3000"},
{"offset":0.32,"color":"#77ac3000"},{"offset":0.3208,"color":"#77ac30"},{"offset":0.3216,"color":"#77ac3000"},
{"offset":0.33,"color":"#77ac3000"},{"offset":0.3308,"color":"#77ac30"},{"offset":0.3316,"color":"#77ac3000"},
{"offset":0.34,"color":"#77ac3000"},{"offset":0.3408,"color":"#77ac30"},{"offset":0.3416,"color":"#77ac3000"},
{"offset":0.35,"color":"#77ac3000"},{"offset":0.3508,"color":"#77ac30"},{"offset":0.3516,"color":"#77ac3000"},
{"offset":0.36,"color":"#77ac3000"},{"offset":0.3608,"color":"#77ac30"},{"offset":0.3616,"color":"#77ac3000"},
{"offset":0.37,"color":"#77ac3000"},{"offset":0.3708,"color":"#77ac30"},{"offset":0.3716,"color":"#77ac3000"},
{"offset":0.38,"color":"#77ac3000"},{"offset":0.3808,"color":"#77ac30"},{"offset":0.3816,"color":"#77ac3000"},
{"offset":0.39,"color":"#77ac3000"},{"offset":0.3908,"color":"#77ac30"},{"offset":0.3916,"color":"#77ac3000"},
{"offset":0.40,"color":"#77ac3000"},{"offset":0.4008,"color":"#77ac30"},{"offset":0.4016,"color":"#77ac3000"},
{"offset":0.41,"color":"#77ac3000"},{"offset":0.4108,"color":"#77ac30"},{"offset":0.4116,"color":"#77ac3000"},
{"offset":0.42,"color":"#77ac3000"},{"offset":0.4208,"color":"#77ac30"},{"offset":0.4216,"color":"#77ac3000"},
{"offset":0.43,"color":"#77ac3000"},{"offset":0.4308,"color":"#77ac30"},{"offset":0.4316,"color":"#77ac3000"},
{"offset":0.44,"color":"#77ac3000"},{"offset":0.4408,"color":"#77ac30"},{"offset":0.4416,"color":"#77ac3000"},
{"offset":0.45,"color":"#77ac3000"},{"offset":0.4508,"color":"#77ac30"},{"offset":0.4516,"color":"#77ac3000"},
{"offset":0.46,"color":"#77ac3000"},{"offset":0.4608,"color":"#77ac30"},{"offset":0.4616,"color":"#77ac3000"},
{"offset":0.47,"color":"#77ac3000"},{"offset":0.4708,"color":"#77ac30"},{"offset":0.4716,"color":"#77ac3000"},
{"offset":0.48,"color":"#77ac3000"},{"offset":0.4808,"color":"#77ac30"},{"offset":0.4816,"color":"#77ac3000"},
{"offset":0.49,"color":"#77ac3000"},{"offset":0.4908,"color":"#77ac30"},{"offset":0.4916,"color":"#77ac3000"},
{"offset":0.50,"color":"#77ac3000"},{"offset":0.5008,"color":"#77ac30"},{"offset":0.5016,"color":"#77ac3000"},
{"offset":0.51,"color":"#77ac3000"},{"offset":0.5108,"color":"#77ac30"},{"offset":0.5116,"color":"#77ac3000"},
{"offset":0.52,"color":"#77ac3000"},{"offset":0.5208,"color":"#77ac30"},{"offset":0.5216,"color":"#77ac3000"},
{"offset":0.53,"color":"#77ac3000"},{"offset":0.5308,"color":"#77ac30"},{"offset":0.5316,"color":"#77ac3000"},
{"offset":0.54,"color":"#77ac3000"},{"offset":0.5408,"color":"#77ac30"},{"offset":0.5416,"color":"#77ac3000"}
]}},"encoding":{"y":{"field":"B","type":"quantitative"},"y2":{"datum":2.72}}},
{"mark":{"type":"line","stroke":"#0072bd","strokeWidth":1.8,"strokeDash":[7,4]},"encoding":{"y":{"field":"B","type":"quantitative"}}},
{"mark":{"type":"point","shape":"circle","filled":false,"stroke":"#0072bd","strokeWidth":1.8,"size":48,"opacity":1},"encoding":{"y":{"field":"B","type":"quantitative"}}},
{"mark":{"type":"line","stroke":"#edb120","strokeWidth":1.8,"strokeDash":[7,4]},"encoding":{}},
{"mark":{"type":"point","shape":"circle","filled":false,"stroke":"#edb120","strokeWidth":1.8,"size":48,"opacity":1},"encoding":{}},
{"data":{"name":"G"},"mark":{"type":"point","filled":false,"clip":true,"opacity":1,"strokeWidth":1},
"encoding":{"x":{"datum":-10},"y":{"datum":-10},
"stroke":{"field":"region","type":"nominal","scale":{"domain":["Desert","Patterns","Uniform vegetation"],"range":["#edb120","#0072bd","#77ac30"]},"legend":{"orient":"none","legendX":211,"legendY":9,"title":null}},
"shape":{"field":"region","type":"nominal","scale":{"domain":["Desert","Patterns","Uniform vegetation"],"range":["M-1,-0.31L-0.8,-0.62M-1,0L-0.6,-0.62M-1,0.31L-0.4,-0.62M-1,0.62L-0.2,-0.62M-0.8,0.62L0,-0.62M-0.6,0.62L0.2,-0.62M-0.4,0.62L0.4,-0.62M-0.2,0.62L0.6,-0.62M0,0.62L0.8,-0.62M0.2,0.62L1,-0.62M0.4,0.62L1,-0.31M0.6,0.62L1,0M0.8,0.62L1,0.31","M-1,0.31L-0.8,0.62M-1,0L-0.6,0.62M-1,-0.31L-0.4,0.62M-1,-0.62L-0.2,0.62M-0.8,-0.62L0,0.62M-0.6,-0.62L0.2,0.62M-0.4,-0.62L0.4,0.62M-0.2,-0.62L0.6,0.62M0,-0.62L0.8,0.62M0.2,-0.62L1,0.62M0.4,-0.62L1,0.31M0.6,-0.62L1,0M0.8,-0.62L1,-0.31","M-1,-0.31L-0.8,-0.62M-1,0L-0.6,-0.62M-1,0.31L-0.4,-0.62M-1,0.62L-0.2,-0.62M-0.8,0.62L0,-0.62M-0.6,0.62L0.2,-0.62M-0.4,0.62L0.4,-0.62M-0.2,0.62L0.6,-0.62M0,0.62L0.8,-0.62M0.2,0.62L1,-0.62M0.4,0.62L1,-0.31M0.6,0.62L1,0M0.8,0.62L1,0.31M-1,0.31L-0.8,0.62M-1,0L-0.6,0.62M-1,-0.31L-0.4,0.62M-1,-0.62L-0.2,0.62M-0.8,-0.62L0,0.62M-0.6,-0.62L0.2,0.62M-0.4,-0.62L0.4,0.62M-0.2,-0.62L0.6,0.62M0,-0.62L0.8,0.62M0.2,-0.62L1,0.62M0.4,-0.62L1,0.31M0.6,-0.62L1,0M0.8,-0.62L1,-0.31"]},"legend":{"orient":"none","legendX":211,"legendY":9,"title":null}}}}
]
}
],
"config":{
"view":{"stroke":null},
"font":"Liberation Sans",
"title":{"font":"Liberation Serif","fontSize":24,"fontWeight":"normal","color":"#000","anchor":"middle","offset":6,"baseline":"alphabetic"},
"axis":{"domainColor":"#262626","domainWidth":1,"tickColor":"#262626","tickSize":-5,"tickWidth":1,"labelFlush":false,"labelFont":"Liberation Sans","labelFontSize":22,"labelColor":"#262626","titleFont":"Liberation Serif","titleFontSize":24,"titleFontWeight":"normal","titleColor":"#000","gridColor":"#bdbdbd","gridDash":[1,2],"gridWidth":1,"zindex":1},
"axisX":{"labelPadding":17,"titleY":56,"titleBaseline":"alphabetic","titleLineHeight":41},
"axisY":{"labelPadding":14,"titleX":-54,"titleY":228,"titleBaseline":"alphabetic"},
"legend":{"fillColor":"#fff","strokeColor":"#262626","padding":4,"labelFont":"Liberation Sans","labelFontSize":23,"labelColor":"#000","labelLimit":320,"symbolStrokeWidth":1,"symbolSize":784,"labelOffset":6,"rowPadding":0,"symbolOpacity":1}
}
}
